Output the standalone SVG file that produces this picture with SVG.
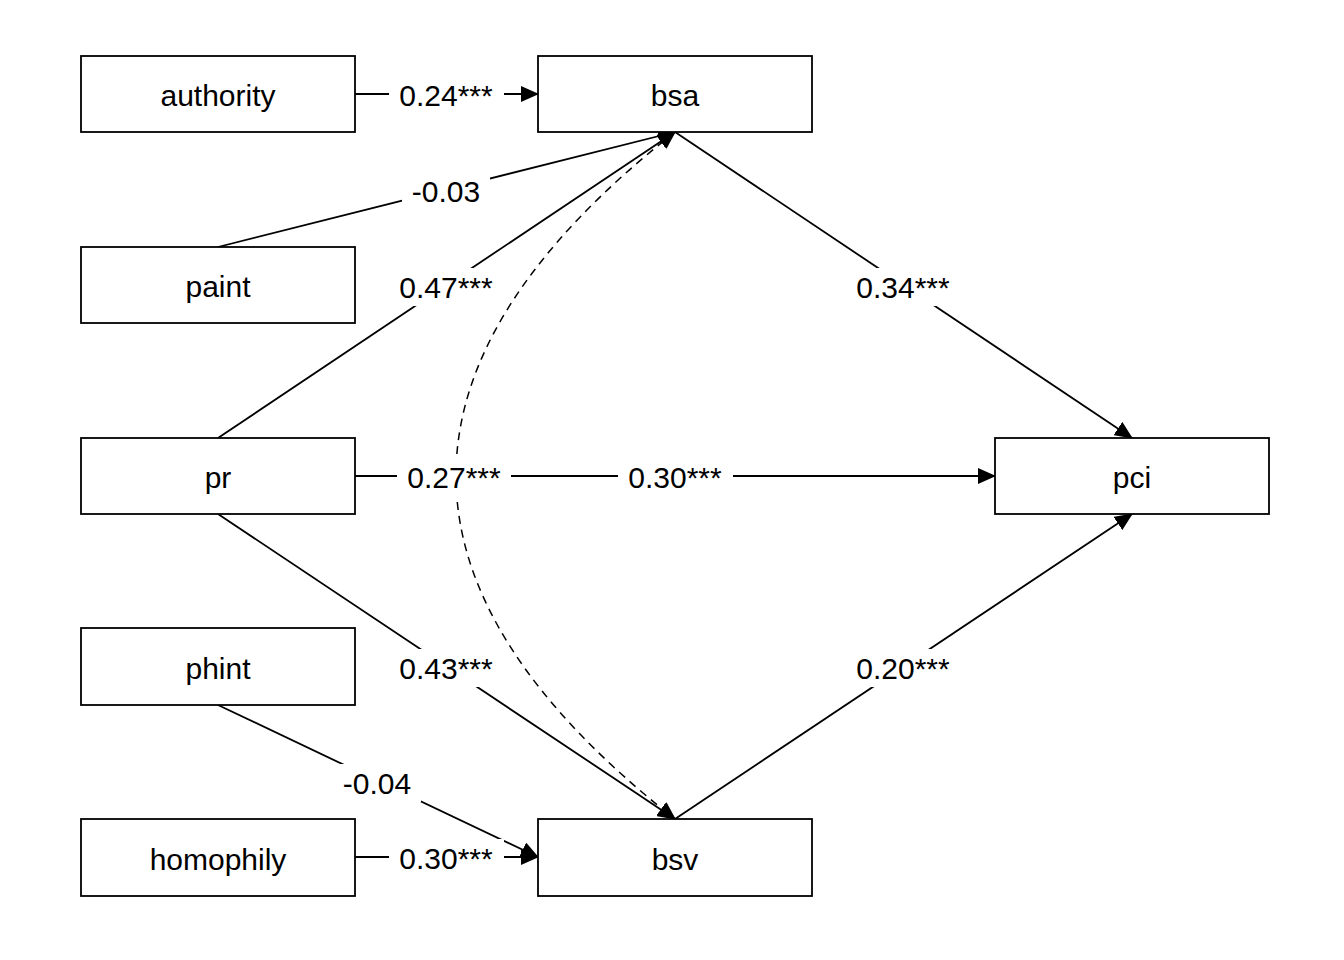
<svg xmlns="http://www.w3.org/2000/svg" width="1344" height="960" viewBox="0 0 1344 960">
<style>
.box{fill:#fff;stroke:#000;stroke-width:1.8}
.edge{fill:none;stroke:#000;stroke-width:1.8;marker-end:url(#ah)}
.cov{fill:none;stroke:#000;stroke-width:1.5;stroke-dasharray:8,6;marker-start:url(#ahs);marker-end:url(#ah)}
.lbg{fill:#fff;stroke:none}
text{font-family:"Liberation Sans",Arial,sans-serif;font-size:30px;fill:#000;text-anchor:middle}
</style>
<defs>
<marker id="ah" markerUnits="userSpaceOnUse" markerWidth="18" markerHeight="16" refX="17" refY="8" orient="auto"><path d="M0,0 L18,8 L0,16 z" fill="#000"/></marker>
<marker id="ahs" markerUnits="userSpaceOnUse" markerWidth="18" markerHeight="16" refX="17" refY="8" orient="auto-start-reverse"><path d="M0,0 L18,8 L0,16 z" fill="#000"/></marker>
</defs>
<rect width="1344" height="960" fill="#fff"/>
<g id="connectors">
<line class="edge" x1="355" y1="94" x2="538" y2="94"/>
<line class="edge" x1="218" y1="247" x2="675" y2="132"/>
<line class="edge" x1="218" y1="438" x2="675" y2="132"/>
<line class="edge" x1="675" y1="132" x2="1132" y2="438"/>
<line class="edge" x1="355" y1="476" x2="995" y2="476"/>
<line class="edge" x1="218" y1="514" x2="675" y2="819"/>
<line class="edge" x1="218" y1="705" x2="538" y2="857"/>
<line class="edge" x1="355" y1="857" x2="538" y2="857"/>
<line class="edge" x1="675" y1="819" x2="1132" y2="514"/>
<path class="cov" d="M675,132 Q237,476 675,819"/>
</g>
<g id="labels">
<rect class="lbg" x="389" y="76" width="115" height="38"/><text x="446" y="106">0.24***</text>
<rect class="lbg" x="402" y="172" width="88" height="38"/><text x="446" y="202">-0.03</text>
<rect class="lbg" x="389" y="268" width="115" height="38"/><text x="446" y="298">0.47***</text>
<rect class="lbg" x="846" y="268" width="115" height="38"/><text x="903" y="298">0.34***</text>
<rect class="lbg" x="397" y="454" width="114" height="44"/><text x="454" y="488">0.27***</text>
<rect class="lbg" x="618" y="457" width="115" height="38"/><text x="675" y="488">0.30***</text>
<rect class="lbg" x="389" y="649" width="115" height="38"/><text x="446" y="679">0.43***</text>
<rect class="lbg" x="846" y="649" width="115" height="38"/><text x="903" y="679">0.20***</text>
<rect class="lbg" x="333" y="764" width="88" height="38"/><text x="377" y="794">-0.04</text>
<rect class="lbg" x="389" y="839" width="115" height="38"/><text x="446" y="869">0.30***</text>
</g>
<g id="node-authority"><rect class="box" x="81" y="56" width="274" height="76"/><text x="218" y="106">authority</text></g>
<g id="node-bsa"><rect class="box" x="538" y="56" width="274" height="76"/><text x="675" y="106">bsa</text></g>
<g id="node-paint"><rect class="box" x="81" y="247" width="274" height="76"/><text x="218" y="297">paint</text></g>
<g id="node-pr"><rect class="box" x="81" y="438" width="274" height="76"/><text x="218" y="488">pr</text></g>
<g id="node-pci"><rect class="box" x="995" y="438" width="274" height="76"/><text x="1132" y="488">pci</text></g>
<g id="node-phint"><rect class="box" x="81" y="628" width="274" height="77"/><text x="218" y="679">phint</text></g>
<g id="node-homophily"><rect class="box" x="81" y="819" width="274" height="77"/><text x="218" y="870">homophily</text></g>
<g id="node-bsv"><rect class="box" x="538" y="819" width="274" height="77"/><text x="675" y="870">bsv</text></g>
</svg>
